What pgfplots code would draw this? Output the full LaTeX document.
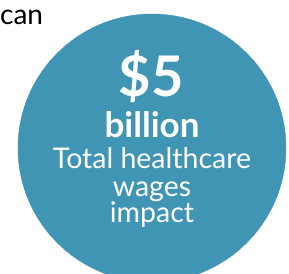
\documentclass[border=0pt]{standalone}
\usepackage{pgfplots}
\pgfplotsset{compat=1.18}
\usepackage{fontspec}
\setmainfont{Lato}
\definecolor{teal}{RGB}{65,149,180}
\begin{document}
\begin{tikzpicture}
\begin{axis}[
  width=289pt, height=273pt, scale only axis,
  xmin=0, xmax=289, ymin=0, ymax=273, y dir=reverse,
  hide axis, clip=true, clip marker paths=true,
]
\addplot[only marks, mark=*, mark size=134pt, color=teal, mark options={draw=none, fill=teal}] coordinates {(152,148)};
\node[anchor=base west, inner sep=0pt, font=\fontsize{28}{28}\selectfont, text=black] at (axis cs:0,24) {can};
\node[anchor=base, inner sep=0pt, font=\fontsize{56}{56}\selectfont\bfseries, text=white] at (axis cs:151,96) {\$5};
\node[anchor=base, inner sep=0pt, font=\fontsize{35}{35}\selectfont\bfseries, text=white] at (axis cs:152,137) {billion};
\node[anchor=base, inner sep=0pt, font=\fontsize{28.5}{28.5}\selectfont, text=white] at (axis cs:152,168) {Total healthcare};
\node[anchor=base, inner sep=0pt, font=\fontsize{28.5}{28.5}\selectfont, text=white] at (axis cs:152,196) {wages};
\node[anchor=base, inner sep=0pt, font=\fontsize{28.5}{28.5}\selectfont, text=white] at (axis cs:152,222) {impact};
\end{axis}
\pgfresetboundingbox
\path[use as bounding box] (current axis.south west) rectangle (current axis.north east);
\end{tikzpicture}
\end{document}
